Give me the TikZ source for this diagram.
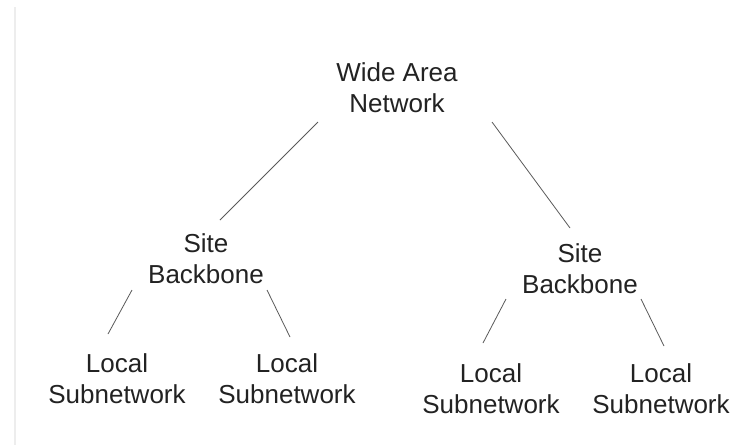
\documentclass[tikz,border=0pt]{standalone}
\usepackage{fontspec}
\setmainfont{Liberation Sans}
\definecolor{inkdark}{HTML}{222222}
\definecolor{linkgray}{HTML}{5A5A5A}
\definecolor{railgray}{HTML}{EDEDED}
\begin{document}
\begin{tikzpicture}[x=1pt,y=-1pt,
  label/.style={align=center,inner sep=0pt,text=inkdark,
    font=\fontsize{26}{31}\selectfont},
  link/.style={draw=linkgray,line width=0.8pt}]
\useasboundingbox (0,0) rectangle (734,445);
\fill[white] (0,0) rectangle (734,445);
% thin rail along the left edge
\draw[railgray,line width=2pt] (15,7) -- (15,445);

% hierarchy levels
\node[label] (wan) at (397,87.5) {Wide Area\\Network};
\node[label] (lsb) at (206,259) {Site\\Backbone};
\node[label] (rsb) at (580,269) {Site\\Backbone};
\node[label] (l1) at (117,379) {Local\\Subnetwork};
\node[label] (l2) at (287,379) {Local\\Subnetwork};
\node[label] (r1) at (491,389) {Local\\Subnetwork};
\node[label] (r2) at (661,389) {Local\\Subnetwork};

% connectors
\draw[link] ([shift={(-79,34.5)}]wan.center) -- ([shift={(14,-39)}]lsb.center);
\draw[link] ([shift={(95,34.5)}]wan.center) -- ([shift={(-10,-41)}]rsb.center);
\draw[link] ([shift={(-74,31)}]lsb.center) -- ([shift={(-9,-45)}]l1.center);
\draw[link] ([shift={(61,31)}]lsb.center) -- ([shift={(3,-42)}]l2.center);
\draw[link] ([shift={(-74,30)}]rsb.center) -- ([shift={(-8,-46)}]r1.center);
\draw[link] ([shift={(61,30)}]rsb.center) -- ([shift={(3,-43)}]r2.center);
\end{tikzpicture}
\end{document}
